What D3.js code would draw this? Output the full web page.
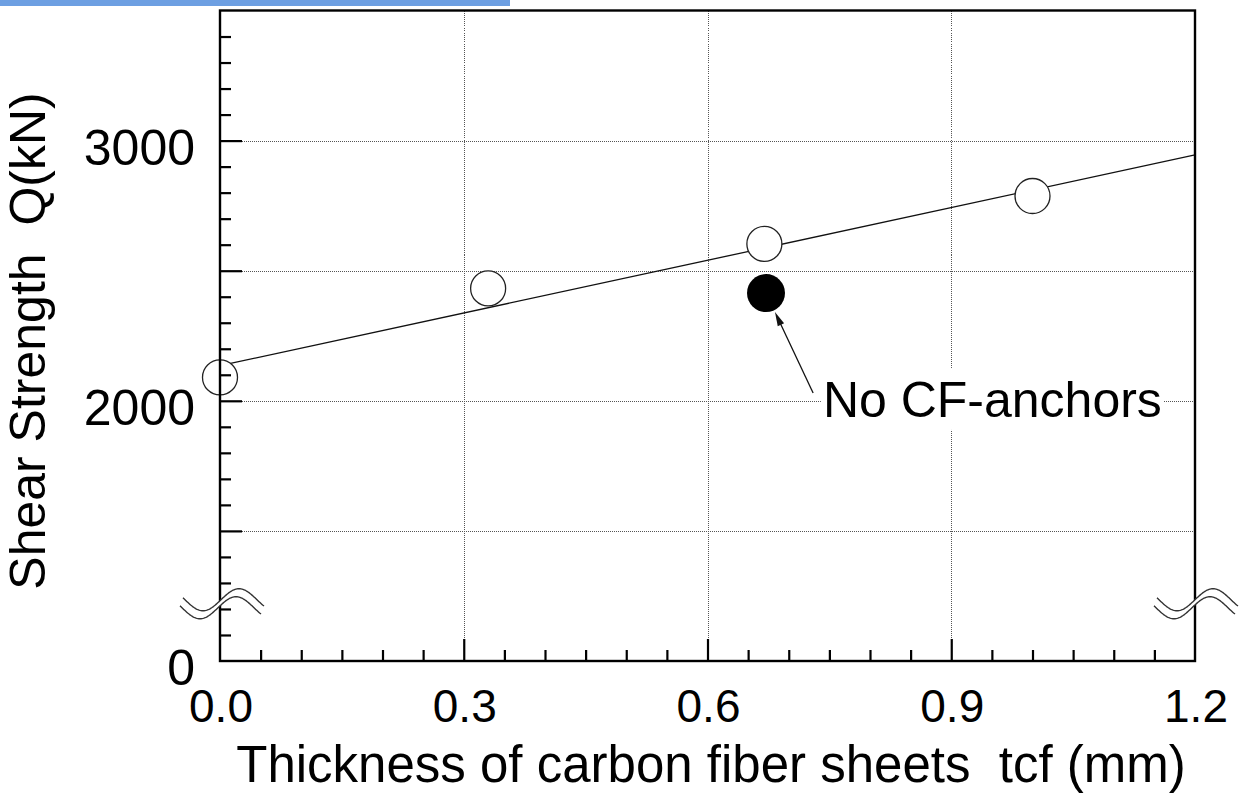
<!DOCTYPE html>
<html>
<head>
<meta charset="utf-8">
<script src="https://cdn.jsdelivr.net/npm/d3@7"></script>
<style>
  html, body { margin: 0; padding: 0; background: #fff; }
  svg { display: block; }
  text { font-family: "Liberation Sans", Arial, sans-serif; fill: #000; }
</style>
</head>
<body>
<svg id="chart" width="1242" height="794"></svg>
<script>
// ---- data ----
const tcf = [0.0, 0.33, 0.67, 1.0];            // thickness of CF sheets (mm), with CF-anchors
const shear = [2090, 2432, 2603, 2787];         // shear strength Q (kN)
const noAnchorTcf = [0.672];                    // specimen without CF-anchors
const noAnchorShear = [2414];
const fitTcf = [0.0, 1.2];                      // regression line end points
const fitShear = [2135, 2945];
const xTickValues = [0.0, 0.3, 0.6, 0.9, 1.2];
const xTickLabels = ["0.0", "0.3", "0.6", "0.9", "1.2"];
const yTickValues = [1000, 2000, 3000];
const yTickLabels = ["0", "2000", "3000"];      // axis is broken: bottom shown as 0
const xGrid = [0.3, 0.6, 0.9];
const yGrid = [1500, 2000, 2500, 3000];
const annotationText = ["No CF-anchors"];
const annotationPos = [0.742, 1938];            // text start (data units)
const arrowTail = [0.730, 2030];
const breakValue = [1220];

// ---- layout ----
const W = 1242, H = 794;
const L = 220, R = 1195, T = 10.5, B = 661;
const svg = d3.select("#chart");
svg.append("rect").attr("width", W).attr("height", H).attr("fill", "#fff");
svg.append("rect").attr("x", 0).attr("y", 0).attr("width", 510).attr("height", 6).attr("fill", "#6d9fe2");

const x = d3.scaleLinear().domain([0, 1.2]).range([L, R]);
const y = d3.scaleLinear().domain([1000, 3500]).range([B, T]);
const snap = v => Math.round(v) + 0.5;

// grid
const grid = svg.append("g").attr("stroke", "#555").attr("stroke-width", 1).attr("stroke-dasharray", "1,1")
  .attr("shape-rendering", "crispEdges");
grid.selectAll("line.gx").data(xGrid).join("line").attr("class", "gx")
  .attr("x1", d => snap(x(d))).attr("x2", d => snap(x(d))).attr("y1", T).attr("y2", B);
grid.selectAll("line.gy").data(yGrid).join("line").attr("class", "gy")
  .attr("x1", L).attr("x2", R).attr("y1", d => snap(y(d))).attr("y2", d => snap(y(d)));

// fit line
const line = d3.line().x(d => x(d[0])).y(d => y(d[1]));
svg.append("path").datum(d3.zip(fitTcf, fitShear)).attr("d", line)
  .attr("fill", "none").attr("stroke", "#111").attr("stroke-width", 1.3);

// open circles
svg.selectAll("circle.open").data(d3.zip(tcf, shear)).join("circle").attr("class", "open")
  .attr("cx", d => x(d[0])).attr("cy", d => y(d[1])).attr("r", 17.5)
  .attr("fill", "#fff").attr("stroke", "#222").attr("stroke-width", 1.3);

// filled circle
svg.selectAll("circle.filled").data(d3.zip(noAnchorTcf, noAnchorShear)).join("circle").attr("class", "filled")
  .attr("cx", d => x(d[0])).attr("cy", d => y(d[1])).attr("r", 19).attr("fill", "#000");

// annotation text with white background
const ann = svg.append("g");
const annBg = ann.append("rect").attr("fill", "#fff");
const annT = ann.append("text").attr("x", x(annotationPos[0])).attr("y", y(annotationPos[1]))
  .attr("font-size", 50).text(annotationText[0]);
const bb = annT.node().getBBox();
annBg.attr("x", bb.x - 2).attr("y", bb.y - 4).attr("width", bb.width + 4).attr("height", bb.height + 6);

// arrow
{
  const px = x(noAnchorTcf[0]), py = y(noAnchorShear[0]);
  const tx = x(arrowTail[0]), ty = y(arrowTail[1]);
  const ang = Math.atan2(ty - py, tx - px);
  const tipX = px + Math.cos(ang) * 21, tipY = py + Math.sin(ang) * 21;
  svg.append("line").attr("x1", tx).attr("y1", ty).attr("x2", tipX + Math.cos(ang) * 8).attr("y2", tipY + Math.sin(ang) * 8)
    .attr("stroke", "#111").attr("stroke-width", 1.3);
  const hl = 14, hw = 3.5;
  const bx = tipX + Math.cos(ang) * hl, by = tipY + Math.sin(ang) * hl;
  const nx = -Math.sin(ang), ny = Math.cos(ang);
  svg.append("path").attr("d", `M${tipX},${tipY}L${bx + nx * hw},${by + ny * hw}L${bx - nx * hw},${by - ny * hw}Z`)
    .attr("fill", "#111");
}

// frame
svg.append("rect").attr("x", L).attr("y", T).attr("width", R - L).attr("height", B - T)
  .attr("fill", "none").attr("stroke", "#000").attr("stroke-width", 2.4);

// ticks (inward) via d3 axes
const yMinor = y.ticks(25).filter(v => v > 1000 && v < 3500 && v % 500 !== 0);
const yMajor = yGrid;
svg.append("g").attr("transform", `translate(${L},0)`)
  .call(d3.axisRight(y).tickValues(yMinor).tickSize(11).tickFormat(""))
  .call(g => g.select(".domain").remove())
  .call(g => g.selectAll("line").attr("stroke", "#000").attr("stroke-width", 2.2));
svg.append("g").attr("transform", `translate(${L},0)`)
  .call(d3.axisRight(y).tickValues(yMajor).tickSize(22).tickFormat(""))
  .call(g => g.select(".domain").remove())
  .call(g => g.selectAll("line").attr("stroke", "#000").attr("stroke-width", 2.2));
const xMinor = x.ticks(24).filter(v => v > 0.001 && v < 1.199 && Math.abs(v / 0.3 - Math.round(v / 0.3)) > 0.01);
svg.append("g").attr("transform", `translate(0,${B})`)
  .call(d3.axisTop(x).tickValues(xMinor).tickSize(11).tickFormat(""))
  .call(g => g.select(".domain").remove())
  .call(g => g.selectAll("line").attr("stroke", "#000").attr("stroke-width", 2.2));
svg.append("g").attr("transform", `translate(0,${B})`)
  .call(d3.axisTop(x).tickValues(xGrid).tickSize(22).tickFormat(""))
  .call(g => g.select(".domain").remove())
  .call(g => g.selectAll("line").attr("stroke", "#000").attr("stroke-width", 2.2));

// axis break marks
function breakMark(cx, cy) {
  const g = svg.append("g");
  const P = 72, A = 11, dy = 8, dx = -3;
  const ts = d3.range(-38, 44, 1);
  const up = ts.map(t => [cx + t, cy - A * Math.sin(2 * Math.PI * t / P)]);
  const lo = ts.map(t => [cx + t + dx, cy + dy - A * Math.sin(2 * Math.PI * t / P)]);
  const band = up.concat(lo.slice().reverse());
  g.append("path").attr("d", d3.line()(band) + "Z").attr("fill", "#fff").attr("stroke", "none");
  [up, lo].forEach(pts => g.append("path").attr("d", d3.line()(pts))
    .attr("fill", "none").attr("stroke", "#333").attr("stroke-width", 1.4));
}
breakMark(L + 1, y(breakValue[0]) - 4);
breakMark(R, y(breakValue[0]) - 4);

// tick labels
svg.selectAll("text.yl").data(d3.zip(yTickValues, yTickLabels)).join("text").attr("class", "yl")
  .attr("x", 195).attr("y", d => y(d[0]) + 24).attr("text-anchor", "end").attr("font-size", 50)
  .text(d => d[1]);
svg.selectAll("text.xl").data(d3.zip(xTickValues, xTickLabels)).join("text").attr("class", "xl")
  .attr("x", d => x(d[0]) + 1).attr("y", 722).attr("text-anchor", "middle").attr("font-size", 46)
  .text(d => d[1]);

// axis titles
svg.append("text").attr("x", 711).attr("y", 782).attr("text-anchor", "middle").attr("font-size", 51)
  .style("white-space", "pre")
  .text("Thickness of carbon fiber sheets  tcf (mm)");
svg.append("text").attr("transform", "translate(45,341) rotate(-90)").attr("text-anchor", "middle")
  .attr("font-size", 50).style("white-space", "pre")
  .text("Shear Strength  Q(kN)");
</script>
</body>
</html>
